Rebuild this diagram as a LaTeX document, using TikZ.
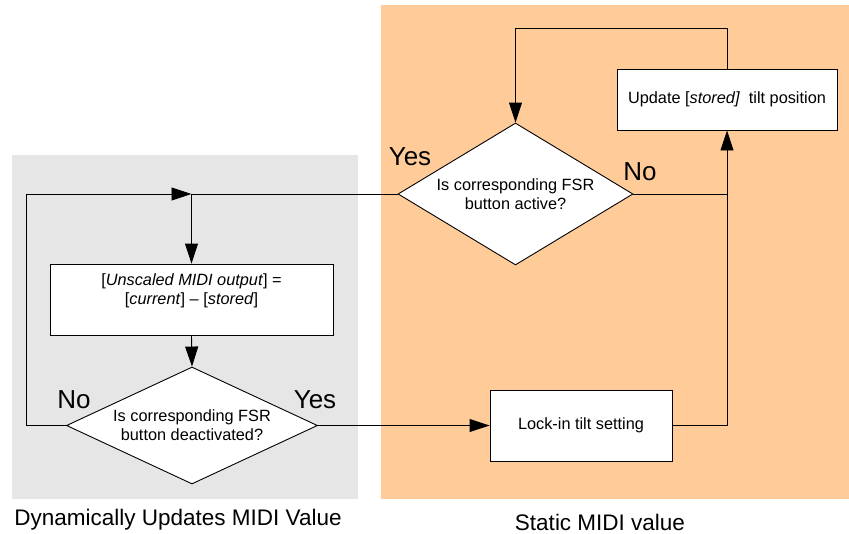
\documentclass[tikz,border=0pt]{standalone}
\usepackage{fontspec}
\setmainfont{Liberation Sans}
\usetikzlibrary{shapes.geometric,arrows.meta}

\definecolor{dynbg}{HTML}{E6E6E6}
\definecolor{statbg}{HTML}{FFCC99}

\tikzset{
  boxtext/.style={font=\fontsize{16.3}{19}\selectfont},
  procbox/.style={draw=black, fill=white, line width=0.9pt, rectangle,
    inner sep=0pt, align=center, boxtext},
  decision/.style={draw=black, fill=white, line width=0.9pt, diamond,
    inner sep=0pt, align=center, boxtext},
  answer/.style={font=\fontsize{26}{30}\selectfont, anchor=base, inner sep=0pt},
  regionlabel/.style={font=\fontsize{22.5}{26}\selectfont, anchor=base, inner sep=0pt},
  flow/.style={line width=0.9pt},
  arr/.style={flow, -{Triangle[length=20pt,width=13pt]}},
}

\begin{document}
\begin{tikzpicture}[x=1pt,y=-1pt]
  \useasboundingbox (0,0) rectangle (849,533);

  % region backgrounds
  \fill[dynbg]  (12,155) rectangle (358,499);
  \fill[statbg] (381,5)  rectangle (849,499);

  % process boxes
  \node[procbox, minimum width=283pt, minimum height=71pt, text depth=20pt] (calc) at (191.5,299.5)
    {[\textit{Unscaled MIDI output}] =\\{}[\textit{current}] -- [\textit{stored}]};
  \node[procbox, minimum width=182pt, minimum height=71pt] (lock) at (581,425.5)
    {Lock-in tilt setting};
  \node[procbox, minimum width=220pt, minimum height=61pt] (update) at (727,99.5)
    {Update [\textit{stored]}~ tilt position};

  % decisions
  \node[decision, aspect=1.655, minimum width=235pt, minimum height=142pt] (active) at (515.5,194)
    {Is corresponding FSR\\ button active?};
  \node[decision, aspect=2.145, minimum width=251pt, minimum height=117pt] (deact) at (192,425.5)
    {Is corresponding FSR\\ button deactivated?};

  % junctions
  \coordinate (merge) at (calc.north |- active.west);
  \coordinate (loopleft) at (26,0);

  % connectors
  \draw[flow] (active.west) -- (merge);
  \draw[arr] (deact.west) -| (loopleft |- merge) -- (merge);
  \draw[arr] (merge) -- (calc.north);
  \draw[arr] (calc.south) -- (deact.north);
  \draw[arr] (deact.east) -- (lock.west);
  \draw[arr] (lock.east) -| (update.south);
  \draw[flow] (active.east) -- (update.south |- active.east);
  \draw[arr] (update.north) -- ++(0,-40) -| (active.north);

  % answer labels
  \node[answer] (yes1) at (410,165) {Yes};
  \node[answer] (no1)  at (640,180) {No};
  \node[answer] (no2)  at (74,408)  {No};
  \node[answer] (yes2) at (315,408) {Yes};

  % region captions
  \node[regionlabel] (dyncap)  at (178,525) {Dynamically Updates MIDI Value};
  \node[regionlabel] (statcap) at (600,530) {Static MIDI value};
\end{tikzpicture}
\end{document}
